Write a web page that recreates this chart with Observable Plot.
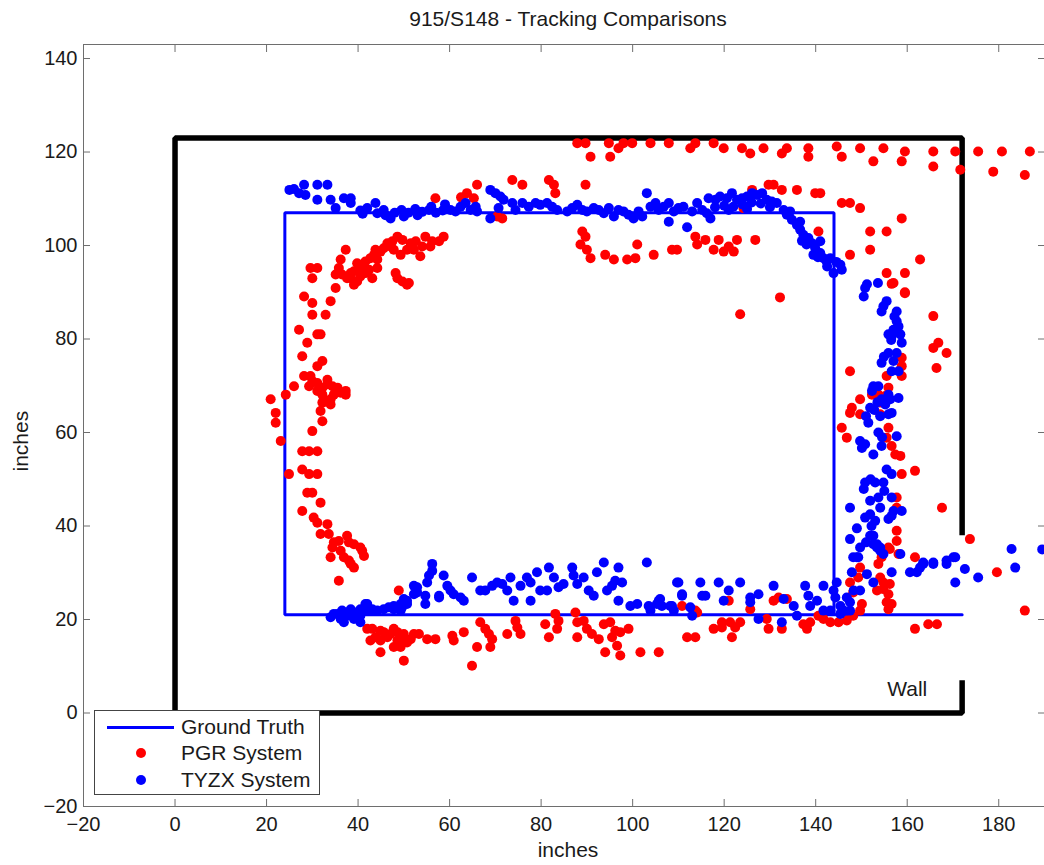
<!DOCTYPE html>
<html><head><meta charset="utf-8">
<script src="https://cdn.jsdelivr.net/npm/d3@7"></script>
<script src="https://cdn.jsdelivr.net/npm/@observablehq/plot@0.6"></script>
<style>
body{margin:0;background:#fff;}
#wrap{position:relative;width:1044px;height:865px;font-family:"Liberation Sans",Arial,sans-serif;}
#legend{position:absolute;left:94px;top:710px;width:226px;height:85px;border:1px solid #444;background:#fff;box-sizing:border-box;}
#legend .row{position:absolute;left:0;height:0;width:100%;}
#legend .lab{position:absolute;left:86px;top:-12px;font-size:21px;line-height:24px;color:#1a1a1a;white-space:nowrap;}
</style></head><body><div id="wrap"></div>
<script>
const titleText = "915/S148 - Tracking Comparisons";
const xLabel = "inches";
const yLabel = "inches";
const xTicks = [-20,0,20,40,60,80,100,120,140,160,180];
const yTicks = [-20,0,20,40,60,80,100,120,140];

// Wall outline (open near lower right) and ground-truth path
const wallPath = [[172,38],[172,123],[0,123],[0,0],[172,0],[172,7]];
const groundTruth = [[172,21],[24,21],[24,107],[144,107],[144,21]];
const wallLabels = [{x:160, y:5, text:"Wall"}];

const legendItems = [
  {label:"Ground Truth", kind:"line", color:"#0000ff"},
  {label:"PGR System", kind:"dot", color:"#ff0000"},
  {label:"TYZX System", kind:"dot", color:"#0000ff"}
];

// PGR System (red)
const pgrPoints = [
[87.9,121.9],[89.7,121.9],[90.8,119],[94.8,121.9],[95.1,119],[96.9,120.8],[98,121.9],[99.9,121.9],[103.9,121.9],[107.9,121.9],[112.6,120.8],[113.7,121.9],[117.7,121.9],[119.9,120.8],[123.9,120.8],[125.7,119.7],[128.6,120.8],[132.6,119.7],[133.7,120.8],[138.4,120.8],[138.4,119],
[144.6,121.2],[145.7,119],[149.7,120.8],[152.6,118],[154.8,120.8],[158.8,118],[159.5,120.1],[165.7,120.1],[165.7,116.9],[170.5,120.1],[171.6,116.2],[175.5,120.1],[178.8,115.8],[180.7,120.1],[185.7,115.1],[186.8,120.1],
[63.8,111.2],[66,113],[65.3,110.1],[62.5,110.3],[56.9,110.1],[70.4,106.2],[71.5,105.8],[73.7,114],[75.9,113],[81.7,114],[82.8,113],[83.1,111.2],[89.7,113],[124.2,108],[126.1,111.9],[129.7,113],[130.8,113],[132.6,111.9],[135.9,111.9],[139.9,111.2],[141,111.2],[145.7,109.1],[147.5,109.1],[149.7,108],[158.8,105.8],
[89,103],[89.7,101.9],[88.6,100.2],[90,99.1],[90.8,97.3],[94,98],[95.9,97],[98.8,97],[100.6,97.3],[101,100.2],[104.6,98],[108.6,99.1],[109.7,99.1],[113.7,101.9],[114.1,100.2],[115.9,101.2],[117.7,99.1],[118.8,101.2],[119.9,98.7],[121,99.8],[122.1,98.7],[122.8,101.2],[126.8,101.2],[140.6,103],[151.9,103],[155.5,103],[151.9,99.1],[147.5,98],[162.8,97],[155.5,94.1],[159.5,94.1],[157,92],[159.5,90],[123.5,85.3],[132.2,88.9],
[156.6,91.8],[159.5,89.8],[165.7,84.9],[165.7,78.1],[166.8,79.2],[168.6,77],[166.4,73.8],[147.5,73.1],[158.8,76],[158.8,74.2],[158.8,72.1],[155.5,72.1],[155.9,69.6],[155.2,67.8],[153.7,68.1],[152.3,68.1],[149.7,67.1],[147.9,65.3],[147.5,64.2],[149.7,63.9],[154.1,63.9],[154.1,66.4],[145.7,61],[146.8,58.9],[155.9,61],[155.5,58.9],[156.6,57.1],[157.4,55.3],[158.5,55],[161.7,51.8],[158.8,51.1],[167.6,43.9],[157.7,46.1],[157.7,43.9],[157.7,39],[157.7,36.8],[155.9,35.4],[154.4,33.3],[161.7,33.3],[173.7,37.2],
[156.2,35.1],[158.1,34],[153.7,31.9],[149.7,31.1],[149.3,29],[154.1,29],[154.8,27.9],[156.2,27.6],[153.4,26.2],[154.8,26.5],[155.9,25.4],[155.5,23.7],[155.9,22.2],[156.6,23.3],[147.5,27.9],[148.2,25.8],[150.1,23.3],[149.7,21.9],[148.2,20.8],[146.8,19.8],[145,19.4],[143.2,19.4],[141.7,20.1],[140.6,20.8],[161.7,18],[164.6,19],[166.5,19],[138.8,19.4],[138.1,18],[137.3,19],[133.7,24.4],[131.9,24.7],[130.8,24],[129.3,20.1],[129.7,18],[132.6,18],[125.7,22.2],[123.5,19.4],[122.4,18.3],[121.3,19.4],[121.7,16.2],[119.5,19.4],[117.7,18],[119.5,18.3],[121,24],[113.7,21.9],[111.9,16.2],[113.7,16.2],[110.8,22.9],[105.7,13],[179.6,30.1],[185.7,21.9],
[48.9,26.2],[42,18],[43.1,18],[42.7,15.5],[43.8,16.2],[44.9,17.6],[44.9,15.5],[45.6,17.3],[46.4,16.2],[47.1,16.9],[47.8,18],[48.6,17.3],[48.6,15.5],[49.3,16.2],[50,16.9],[50.4,15.5],[51.5,15.8],[52.2,16.9],[53.3,16.9],[55.1,15.8],[56.9,15.8],[44.9,13],[50,11.2],[47.8,14.1],[49.3,14.1],[50.7,15.1],[60.6,16.5],[63.1,17.3],[60.9,15.5],[66.7,19.4],[67.8,18],[68.6,16.9],[69.3,15.8],[66,14.1],[68.9,14.1],[64.9,10.1],[72.6,16.9],[74.4,19.7],[74.8,18.3],[75.5,16.9],[80.9,19],[81.7,16.2],[83.1,21.2],[83.8,19.7],[83.5,18],[87.5,21.5],[87.9,19.4],[89.3,19.7],[87.9,16.2],[90,18],[91.1,16.9],[92.6,15.8],[93.7,19],[95.1,19.4],[95.5,16.2],[96.2,17.6],[97.3,17.3],[99.1,18],[94,13],[96.6,14.4],[97.3,12.3],[101.7,13],[114.1,21.5],
[58.7,101.9],[57.7,100.9],[56.2,100.9],[54.7,101.9],[54,99.8],[55.8,99.8],[53.6,97.7],[52.6,100.9],[51.5,100.5],[50.7,99.1],[49.7,101.2],[48.6,101.9],[47.5,100.9],[47.1,99.8],[46.4,100.5],[45.6,99.4],[44.9,98.7],[43.8,99.1],[43.5,98],[44.2,97],[42.7,97.3],[41.6,96.6],[40.9,95.9],[39.8,96.2],[40.2,94.8],[39.1,94.5],[38.4,94.1],[40.5,93.4],[41.6,94.1],[42.4,94.8],[43.1,93],[44.2,95.2],[37.3,99.1],[36.2,97],[35.8,95.2],[35.1,93.8],[36.5,93.8],[37.6,93],[38.4,93],[39.8,92.3],[39.1,91.6],[35.1,90.9],[48.2,94.1],[48.6,93],[49.7,92.3],[50.7,91.6],[51.1,92],[47.8,99.1],[49.3,98],[52.2,99.1],[29.6,95.2],[31.1,95.2],[30,93],[28.2,89.1],[30,87.7],[34,88.1],[30,85.2],[32.9,85.2],[27.1,82],[31.1,81],[31.8,81],[28.9,79.2],[27.8,76.3],[32.2,75.3],[31.1,74.2],[29.6,72.1],[28.2,72.1],[33.3,71.3],
[30,71],[29.3,69.9],[31.1,70.6],[32.2,69.6],[33.3,70.3],[34.4,69.9],[35.5,69.6],[36.2,68.5],[37.3,68.9],[37.3,68.1],[34.7,68.1],[32.2,68.1],[31.1,68.9],[32.5,67.1],[34,67.1],[34,66],[32.2,66.4],[31.8,64.6],[32.2,62.4],[30,60.3],[26,69.9],[24.2,68.1],[20.9,67.1],[22,64.2],[22,62.1],[23.1,58.2],[24.9,51.1],[27.8,56],[29.3,56],[31.1,56],[27.8,52.1],[29.3,51.1],[31.1,51.1],[28.9,47.1],[30,47.1],[31.8,45],[27.8,43.2],[30.3,41.8],[31.1,40.7],[33.3,40.4],[31.8,38.3],[33.6,38.3],[34.7,36.5],[35.8,36.8],[34.4,35.4],[37.6,37.9],[38,36.5],[39.1,36.1],[40.9,34.7],[41.3,33.6],[34,33.3],[36.9,33.3],[38,32.6],[38.4,31.9],[39.1,31.1],[35.8,28.3],[40.5,35.4],[36.2,34.7]
];

// TYZX System (blue)
const tyzxPoints = [
[25,111.9],[26,112.1],[27.1,111.2],[28.2,113],[28.5,110.8],[31.1,113],[31.1,109.8],[33.3,113],[34,109.8],[35.1,108],[36.9,110.1],[38.4,110.1],[38.4,109.1],[42,108],[43.8,109.1],[44.2,106.9],[45.6,107.6],[47.1,105.8],[40.5,107.5],[41,106.8],[46,106.5],
[48,107],[49.5,107.6],[51,107],[52.5,107.8],[54,107.2],[55.5,107.6],[57,107],[58.5,107.5],[50,106.2],[53,106.5],[56,108.3],[59,108.8],
[60.2,107.6],[61.3,107.3],[62.4,108.3],[63.5,109.1],[64.6,107.6],[65.7,108.3],[66,107.3],[68.9,111.9],[68.9,105.8],[70,111.2],[71.1,110.5],[71.8,109.8],[70.7,108],[73.7,109.1],[74.4,107.6],[75.9,109.1],[77.3,108.3],[78.8,109.1],[79.8,108.7],[81.3,109.1],[82.4,108.3],[83.5,107.6],[85.7,107.3],[86.8,108],[87.9,108.7],[89,107.6],[90,107.3],[91.5,108],[92.6,107.6],[93.7,106.9],[94.8,108],[95.9,106.2],[96.9,107.6],[98,107.3],[99.1,106.6],[100.2,105.8],[101.3,107.3],[102.1,106.2],[103.1,111.2],[103.9,108.3],[105,109.1],[105.7,107.6],[106.8,108.3],[107.9,109.1],[107.9,105.1],[109,107.3],[110,108],[111.1,108.3],[111.9,103.9],[113,107.3],[114.1,109.1],[115.2,107.6],[116.2,106.9],[117,105.8],[116.6,110.1],[118.1,109.8],[119.1,110.5],[120.6,110.1],[121.7,111.2],[122.8,109.8],[123.9,110.1],[125,110.5],[126.1,111.2],[127.2,110.8],[128.3,111.2],[129.3,109.8],[130.4,109.4],[131.5,109.1],[133,107.6],[133.7,106.6],[134.8,105.5],[135.9,104.4],[136.6,103.4],[137.3,102.3],[138.4,101.6],[139.2,100.5],[139.9,99.4],[139.5,98],[141,98.4],[141.7,97.3],[142.4,96.6],
[118,108.2],[120,108.5],[122,108.3],[124,108.8],[126,109.2],[128,109],[130,108.2],[121,107.6],[125,107.8],
[143.2,97.3],[143.9,94.1],[145.4,95.9],[145.7,94.8],[141,100.9],[136.6,105.1],[134.4,107.3],[142.5,95.5],[140.5,97.5],[138,100.2],[137,101],[144.5,96.5],
[150.8,90.9],[151.2,91.7],[153.6,92],
[150.5,89.1],[155.5,88.1],[154.8,87],[154.4,85.9],[157.7,85.9],[157.7,83.8],[158.1,82.7],[157,82],[155.9,81],[156.6,80.6],[158.5,81],[158.8,79.2],[155.9,77],[157.7,77],[154.4,74.9],[157,75.3],[156.6,73.1],[158.1,73.1],[152.6,69.9],[153.7,69.9],[152.3,68.9],[155.9,68.1],[154.4,67.1],[156.3,67.1],[158.1,67.4],[155.2,66],[151.9,65.3],[154.1,63.5],[155.9,63.9],[156.6,64.2],[151.5,62.1],[153.7,60],[157.7,59.2],[149.7,58.2],[150.8,57.5],[150.1,56.7],[154.4,57.1],[152.6,55.3],[155.5,52.1],[156.6,51.1],[150.8,49.3],[153,49.3],[154.8,49.3],[150.5,47.9],[151.9,45.4],[153.7,46.1],[156.6,46.1],[154.1,43.9],[157,43.2],[158.8,43.2],[151.9,42.5],[150.8,41.8],[147.5,43.9],[153,41.1],[155.9,41.5],[156.6,42.2],[152.6,37.9],[151.9,37.9],[147.5,37.2],[153.4,36.1],[149.7,35.4],[154.1,35.4],[148.2,33.3],[149.3,33.3],[158.5,34],[170.1,33.3],[168.6,32.6],[163.5,32.2],[165.7,32.2],
[157.2,84.8],[156.5,79.8],[154.9,76.2],[153.5,66.5],[152.8,64.8],[151,63.5],[154.5,59],[152,50],[155,47.5],[152.2,40],[149,39.5],[151,36.5],
[149,33.3],[152.6,36.1],[153.4,35.4],[154.1,34.7],[154.8,34],[156.6,30.1],[151.2,29.7],[147.9,30.1],[160.6,30.1],[162.1,30.1],[162.8,31.1],[163.5,31.9],[165.7,31.9],[168.6,31.9],[170.5,33.3],[172.6,30.8],[175.5,29],[170.5,27.9],[182.8,35.1],[183.6,31.1],[189.5,35],
[103.9,21.9],[105.3,23.3],[106,24.4],[108.6,22.9],[109,21.9],[112.6,22.6],[113,20.8],[110,27.9],[110.8,25.1],[114.8,27.9],[115.2,25.1],[115.9,25.1],[118.8,27.9],[119.9,24],[121,26.2],[123.5,27.9],[125.7,24.7],[127.5,25.4],[125.7,23.7],[127.5,20.1],[130.8,27.2],[133,24.4],[132.6,19.4],[135.2,22.9],[135.9,20.8],[137.7,27.2],[138.4,25.1],[138.8,22.9],[140.3,24],[141.7,27.2],[141.7,21.9],[144.6,27.9],[144.3,24.7],[145.4,22.9],[146.1,21.9],[146.8,24.7],[147.5,23.7],[148.3,26.2],[149.7,26.2],[147.5,21.9],[145.4,21.2],[143.2,21.9],[143.9,26.2],[152.6,27.9],
[34,20.5],[35.5,21.2],[36.2,20.1],[36.9,21.5],[37.6,20.8],[38.4,21.9],[39.1,20.1],[39.8,21.5],[40.5,20.8],[41.6,23.3],[42,21.9],[43.1,22.2],[44.2,21.9],[45.6,22.2],[46.7,22.6],[47.8,22.9],[49.3,23.3],[50,24.4],[50.7,23.3],[49.3,21.9],[40.5,19.4],[36.9,19.4],
[52.2,27.2],[52.9,25.8],[54.7,25.1],[54.7,23.3],[55.5,29.4],[56.2,31.9],[56.2,30.4],[57.7,25.1],[58.7,29.4],[59.5,27.2],[60.2,26.2],[60.9,25.4],[62.4,24.7],[63.1,24],[64.9,29],[66.7,26.2],[67.8,26.2],[69.3,27.2],[70.4,27.9],[71.5,27.6],[72.6,26.2],[73.3,29],[74,24],[75.5,27.2],[76.9,29],[77.7,27.9],[77.7,24],[79.1,30.1],[79.8,26.2],[81.3,26.2],[81.7,31.1],[82.8,29],[83.8,26.9],[84.9,27.6],[86.8,31.1],[87.1,29.4],[87.9,27.6],[89.3,29],[90.4,26.2],[91.5,25.1],[92.2,30.1],[93.7,32.2],[94.4,26.2],[95.5,27.2],[96.2,28.3],[96.9,31.1],[97.7,27.9],[96.9,24],[99.5,22.9],[101,23.3],[103.1,32.2],[103.5,22.9],[105.7,24],[106.4,22.9],[109.7,27.9],[110.8,25.4],[108.2,22.9],
[55.1,27.9],[52.9,26.9],[52.2,25.4],[50.7,24],[49.6,22.6],[47.8,22.2],[42,23.3],[40.5,22.2],[38.4,22.2],[36.5,21.9],[34.7,21.2],[57.7,24.7]
];

const FONT = "Liberation Sans, Arial, Helvetica, sans-serif";
const chart = Plot.plot({
  width: 1044, height: 865,
  marginLeft: 83, marginRight: 0, marginTop: 44, marginBottom: 59,
  style: {fontFamily: FONT, fontSize: "20px", color: "#1a1a1a", background: "#fff"},
  x: {domain: [-20, 190], label: null},
  y: {domain: [-20, 143], label: null},
  marks: [
    Plot.frame({stroke: "#6e6e6e"}),
    Plot.axisX(xTicks, {anchor: "bottom", tickSize: -7, tickPadding: 17, stroke: "#6e6e6e", fill: "#1a1a1a", fontSize: 20, label: null}),
    Plot.axisX(xTicks, {anchor: "top", tickSize: -7, tickFormat: () => "", stroke: "#6e6e6e", label: null}),
    Plot.axisY(yTicks, {anchor: "left", tickSize: -7, tickPadding: 13, stroke: "#6e6e6e", fill: "#1a1a1a", fontSize: 20, label: null}),
    Plot.axisY(yTicks, {anchor: "right", tickSize: -7, tickFormat: () => "", stroke: "#6e6e6e", label: null}),
    Plot.line(wallPath, {stroke: "#000", strokeWidth: 5.5, strokeLinejoin: "miter", strokeLinecap: "butt"}),
    Plot.line(groundTruth, {stroke: "#0000ff", strokeWidth: 3, strokeLinejoin: "miter"}),
    Plot.dot(pgrPoints, {fill: "#ff0000", r: 5}),
    Plot.dot(tyzxPoints, {fill: "#0000ff", r: 5}),
    Plot.text(wallLabels, {x: "x", y: "y", text: "text", fontSize: 21, fill: "#1a1a1a"}),
    Plot.text([titleText], {text: d => d, frameAnchor: "top", dy: -33, dx: 4, fontSize: 21, fill: "#1a1a1a"}),
    Plot.text([xLabel], {text: d => d, frameAnchor: "bottom", dy: 50, dx: 4, fontSize: 21, fill: "#1a1a1a"}),
    Plot.text([yLabel], {text: d => d, frameAnchor: "left", dx: -62, dy: 46, rotate: -90, fontSize: 21, fill: "#1a1a1a"})
  ]
});

const wrap = document.getElementById("wrap");
wrap.appendChild(chart);

// legend box
const legend = document.createElement("div");
legend.id = "legend";
const rowY = [16, 42, 69];
legendItems.forEach((it, i) => {
  const row = document.createElement("div");
  row.className = "row";
  row.style.top = rowY[i] + "px";
  if (it.kind === "line") {
    const ln = document.createElement("div");
    ln.style.cssText = `position:absolute;left:12px;top:-1.5px;width:67px;height:3px;background:${it.color};`;
    row.appendChild(ln);
  } else {
    const dt = document.createElement("div");
    dt.style.cssText = `position:absolute;left:41px;top:-5px;width:10px;height:10px;border-radius:50%;background:${it.color};`;
    row.appendChild(dt);
  }
  const lab = document.createElement("div");
  lab.className = "lab";
  lab.textContent = it.label;
  row.appendChild(lab);
  legend.appendChild(row);
});
wrap.appendChild(legend);
</script></body></html>
